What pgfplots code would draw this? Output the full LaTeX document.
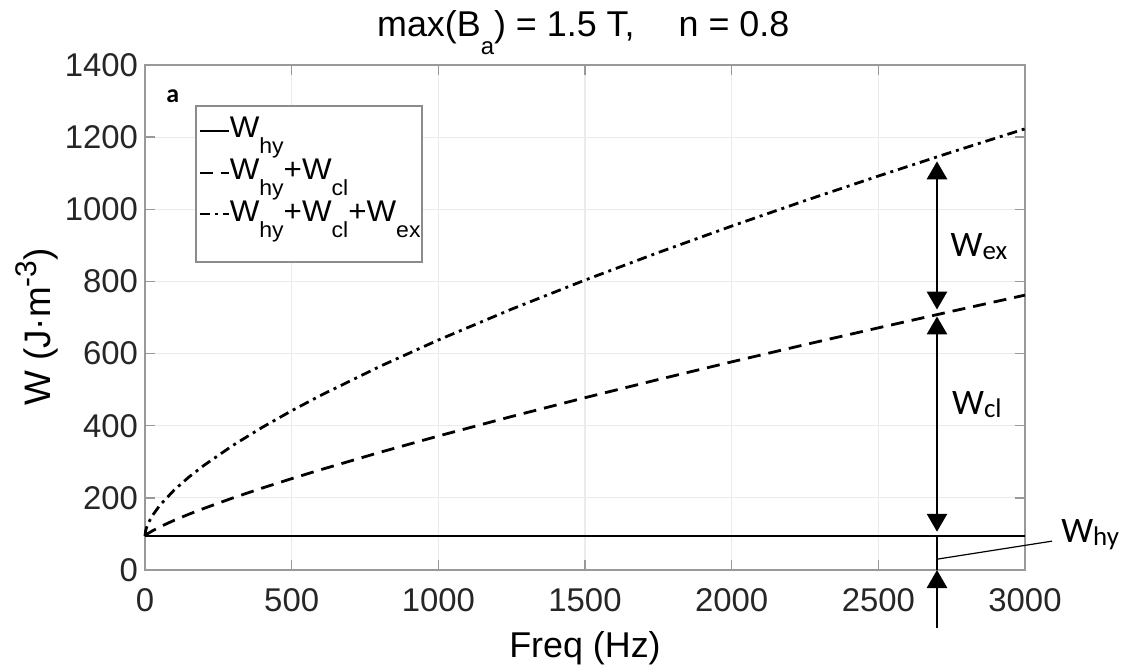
\documentclass[border=0pt]{standalone}
\usepackage{pgfplots}
\usepackage{pgfplotstable}
\pgfplotsset{compat=1.18}
\usepackage{fontspec}
\setmainfont{Liberation Sans}
\newfontfamily\legfont[FakeStretch=1.05]{Liberation Sans}
\newfontfamily\calfont{Carlito}
\usetikzlibrary{arrows.meta}

\newcommand{\lsub}[1]{\raisebox{-8bp}{\fontsize{11}{12}\selectfont #1}}
\newcommand{\csub}[1]{\raisebox{-1.5bp}{\fontsize{13.5}{15}\selectfont #1}}

\pgfplotstableread{
f     hy  cl     ex
0     94  94.0   94.0
2     94  95.9   107.8
5     94  98.0   116.8
10    94  101.0  127.6
25    94  108.5  150.6
50    94  119.3  178.8
100   94  138.0  222.2
150   94  154.8  257.9
200   94  170.5  289.5
300   94  199.9  345.7
400   94  227.3  395.6
500   94  253.3  441.5
600   94  278.3  484.5
800   94  326.0  564.1
1000  94  371.4  637.6
1250  94  425.6  723.2
1500  94  477.7  803.7
1750  94  528.0  880.1
2000  94  577.0  953.4
2250  94  624.7  1023.9
2500  94  671.3  1092.1
2750  94  717.1  1158.5
3000  94  762.0  1223.0
}\datatable

\begin{document}
\begin{tikzpicture}
\useasboundingbox (-72.5bp,-50bp) rectangle (490.5bp,285bp);
\begin{axis}[
  at={(0,0)}, anchor=south west,
  scale only axis, width=440bp, height=252.5bp,
  xmin=0, xmax=3000, ymin=0, ymax=1400,
  xtick={0,500,...,3000}, ytick={0,200,...,1400},
  grid=major, major grid style={color=black!8, line width=0.6bp},
  axis line style={color=black!40, line width=0.7bp},
  tick style={color=black!40, line width=0.7bp},
  tick align=inside, major tick length=5bp,
  tick label style={font=\fontsize{16.5}{19}\selectfont, color=black!85},
  xticklabel style={yshift=-6bp},
  /pgf/number format/assume math mode=true,
  /pgf/number format/1000 sep={},
  scaled ticks=false,
  clip=false,
  title={max(B\raisebox{-9bp}{\fontsize{12}{14}\selectfont a}) = 1.5 T,\hspace{22bp}n = 0.8},
  title style={at={(axis description cs:0.498,1)}, anchor=base, yshift=8.5bp, font=\fontsize{18}{21}\selectfont},
  xlabel={Freq (Hz)},
  xlabel style={at={(axis description cs:0.5,0)}, anchor=base, yshift=-43.5bp, font=\fontsize{18}{21}\selectfont},
  ylabel={W (J·m\raisebox{7bp}{\fontsize{15}{17}\selectfont -3})},
  ylabel style={at={(axis description cs:-0.1227,0.481)}, anchor=center, font=\fontsize{18.5}{21}\selectfont},
  legend style={at={(rel axis cs:0.0602,0.897)}, anchor=north west, draw=none, fill=none,
    inner xsep=0bp, inner ysep=0bp, font=\legfont\fontsize{15}{17}\selectfont, row sep=9bp, column sep=0bp,
    nodes={inner sep=0bp}},
  legend cell align=left,
  legend image code/.code={\draw[#1, line width=1.2bp] (0bp,-1bp) -- (14.5bp,-1bp);},
]
\addplot[black, line width=1.4bp] table[x=f,y=hy]{\datatable};
\addlegendentry{W\lsub{hy}}
\addplot[black, line width=1.4bp, dash pattern=on 6.5bp off 4bp] table[x=f,y=cl]{\datatable};
\addlegendentry{W\lsub{hy}+W\lsub{cl}}
\addplot[black, line width=1.4bp, dash pattern=on 5bp off 2.5bp on 1.5bp off 2.5bp] table[x=f,y=ex]{\datatable};
\addlegendentry{W\lsub{hy}+W\lsub{cl}+W\lsub{ex}}

\draw[draw=black!45, line width=0.6bp, fill=white] (rel axis cs:0.058,0.9188) rectangle (rel axis cs:0.3148,0.6099);

\draw[line width=1.4bp, {Triangle[width=10bp,length=9bp]}-{Triangle[width=10bp,length=9bp]}] (axis cs:2700,1133) -- (axis cs:2700,722);
\draw[line width=1.4bp, {Triangle[width=10bp,length=9bp]}-{Triangle[width=10bp,length=9bp]}] (axis cs:2700,703) -- (axis cs:2700,106);
\draw[line width=1.4bp, -{Triangle[width=10bp,length=9bp]}] (axis cs:2700,-161) -- (axis cs:2700,0);
\draw[line width=1.4bp] (axis cs:2700,0) -- (axis cs:2700,94);
\draw[line width=0.6bp] (axis cs:2700,30) -- (axis cs:3092,80);

\node[font=\calfont\fontsize{18}{20}\selectfont] at (axis cs:2843,897) {W\csub{ex}};
\node[font=\calfont\fontsize{18}{20}\selectfont] at (axis cs:2836,458) {W\csub{cl}};
\node[font=\calfont\fontsize{18}{20}\selectfont] at (axis cs:3222,97) {W\csub{hy}};
\node[font=\calfont\bfseries\fontsize{13}{15}\selectfont] at (axis cs:95,1314) {a};
\end{axis}
\end{tikzpicture}
\end{document}
